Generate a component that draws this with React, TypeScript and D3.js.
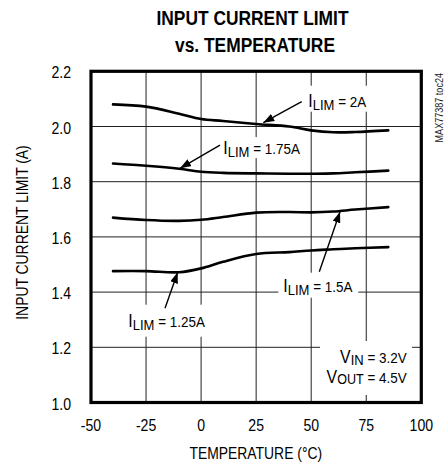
import React from "react";
import * as d3 from "d3";

const temperatures = [-40, -25, -10, 0, 10, 25, 40, 50, 60, 70, 85];
const lim2A = [2.08, 2.072, 2.046, 2.027, 2.02, 2.009, 2.0, 1.986, 1.979, 1.98, 1.986];
const lim175A = [1.866, 1.858, 1.847, 1.836, 1.832, 1.83, 1.829, 1.829, 1.83, 1.834, 1.84];
const lim15A = [1.67, 1.661, 1.658, 1.662, 1.672, 1.688, 1.69, 1.689, 1.692, 1.699, 1.708];
const lim125A = [1.476, 1.476, 1.472, 1.486, 1.51, 1.538, 1.545, 1.551, 1.555, 1.559, 1.563];

const xTicks = [-50, -25, 0, 25, 50, 75, 100];
const yTicks = [1.0, 1.2, 1.4, 1.6, 1.8, 2.0, 2.2];

const seriesList = [lim2A, lim175A, lim15A, lim125A];

const W = 448;
const H = 464;
const FONT = "'Liberation Sans', Arial, Helvetica, sans-serif";
const TITLE_FONT = "'Liberation Sans Narrow', 'Liberation Sans', Arial, sans-serif";
const SX = 0.88; // horizontal condensing

export default function App() {
  const x = d3.scaleLinear().domain([-50, 100]).range([91, 421.3]);
  const y = d3.scaleLinear().domain([1.0, 2.2]).range([402.5, 71.3]);
  const line = d3
    .line<number>()
    .x((_, i) => x(temperatures[i]))
    .y((d) => y(d))
    .curve(d3.curveCatmullRom.alpha(0.5));

  // annotations in data units
  const limLabels = [
    { val: "2A", tx: 48.68, ty: 2.0717, fx: 45.69, fy: 2.09, px: 28.25, py: 2.0138, box: [-4, -21, 68, 26] },
    { val: "1.75A", tx: 10.08, ty: 1.9, fx: 8.58, fy: 1.9326, px: -9.58, py: 1.8486, box: [-4, -17, 86, 21] },
    { val: "1.5A", tx: 37.33, ty: 1.4014, fx: 53.68, fy: 1.4739, px: 63.1, py: 1.6913, box: [-5, -19, 80, 25] },
    { val: "1.25A", tx: -33.06, ty: 1.2746, fx: -16.39, fy: 1.3413, px: -10.63, py: 1.4717, box: [-3, -22, 86, 32] },
  ];

  return (
    <svg
      width={W}
      height={H}
      viewBox={`0 0 ${W} ${H}`}
      style={{ position: "absolute", left: 0, top: 0, background: "#fff" }}
    >
      <defs>
        <marker
          id="arr"
          markerUnits="userSpaceOnUse"
          markerWidth={11}
          markerHeight={8}
          refX={11}
          refY={4}
          orient="auto"
        >
          <path d="M0,0 L11,4 L0,8 Z" fill="#000" />
        </marker>
      </defs>
      <rect x={0} y={0} width={W} height={H} fill="#fff" />

      {/* Title */}
      <text x={252.5} y={25} textAnchor="middle" fontFamily={TITLE_FONT} fontWeight="bold" fontSize={19.5} textLength={192} lengthAdjust="spacingAndGlyphs">
        INPUT CURRENT LIMIT
      </text>
      <text x={255} y={51.7} textAnchor="middle" fontFamily={TITLE_FONT} fontWeight="bold" fontSize={19.5} textLength={160} lengthAdjust="spacingAndGlyphs">
        vs. TEMPERATURE
      </text>

      {/* grid */}
      {xTicks.slice(1, -1).map((t) => (
        <line key={"gx" + t} x1={x(t)} x2={x(t)} y1={y(2.2)} y2={y(1.0)} stroke="#222" strokeWidth={1} />
      ))}
      {yTicks.slice(1, -1).map((t) => (
        <line key={"gy" + t} x1={x(-50)} x2={x(100)} y1={y(t)} y2={y(t)} stroke="#222" strokeWidth={1} />
      ))}

      {/* label backgrounds */}
      {limLabels.map((l, i) => (
        <rect key={"bg" + i} x={x(l.tx) + l.box[0]} y={y(l.ty) + l.box[1]} width={l.box[2]} height={l.box[3]} fill="#fff" />
      ))}
      <rect x={320} y={341} width={92} height={54} fill="#fff" />

      {/* curves */}
      {seriesList.map((s, i) => (
        <path key={"s" + i} d={line(s) || ""} fill="none" stroke="#000" strokeWidth={2.6} strokeLinecap="round" />
      ))}

      {/* arrows */}
      {limLabels.map((l, i) => (
        <line key={"ar" + i} x1={x(l.fx)} y1={y(l.fy)} x2={x(l.px)} y2={y(l.py)} stroke="#000" strokeWidth={1.4} markerEnd="url(#arr)" />
      ))}

      {/* labels */}
      {limLabels.map((l, i) => (
        <text key={"lt" + i} transform={`translate(${x(l.tx)},${y(l.ty)}) scale(${SX},1)`} fontFamily={FONT} fill="#000">
          <tspan fontSize={18}>I</tspan>
          <tspan fontSize={14.8} dy={3}>LIM</tspan>
          <tspan fontSize={15.3} dy={-3}>{` = ${l.val}`}</tspan>
        </text>
      ))}
      <text transform={`translate(406.7,363.3) scale(${SX},1)`} textAnchor="end" fontFamily={FONT} fill="#000">
        <tspan fontSize={18}>V</tspan>
        <tspan fontSize={14.8} dy={2}>IN</tspan>
        <tspan fontSize={15.3} dy={-2}> = 3.2V</tspan>
      </text>
      <text transform={`translate(406.7,382.7) scale(${SX},1)`} textAnchor="end" fontFamily={FONT} fill="#000">
        <tspan fontSize={18}>V</tspan>
        <tspan fontSize={14.3} dy={1}>OUT</tspan>
        <tspan fontSize={15.3} dy={-1}> = 4.5V</tspan>
      </text>

      {/* frame */}
      <rect x={x(-50)} y={y(2.2)} width={x(100) - x(-50)} height={y(1.0) - y(2.2)} fill="none" stroke="#000" strokeWidth={3.2} />

      {/* ticks labels */}
      {yTicks.map((t) => (
        <text key={"yt" + t} transform={`translate(71,${y(t) + 7}) scale(${SX},1)`} textAnchor="end" fontFamily={FONT} fontSize={16} fill="#000">
          {t.toFixed(1)}
        </text>
      ))}
      {xTicks.map((t) => (
        <text key={"xt" + t} transform={`translate(${x(t)},430.5) scale(${SX},1)`} textAnchor="middle" fontFamily={FONT} fontSize={16} fill="#000">
          {t}
        </text>
      ))}

      {/* axis titles */}
      <text transform={`translate(255.8,459) scale(${SX},1)`} textAnchor="middle" fontFamily={FONT} fontSize={15.8} fill="#000">
        TEMPERATURE (°C)
      </text>
      <text transform={`translate(28,232.5) rotate(-90) scale(${SX},1)`} textAnchor="middle" fontFamily={FONT} fontSize={15.8} fill="#000">
        INPUT CURRENT LIMIT (A)
      </text>
      <text transform={`translate(443.3,73) rotate(-90) scale(${SX},1)`} textAnchor="end" fontFamily={FONT} fontSize={10.3} fill="#222">
        MAX77387 toc24
      </text>
    </svg>
  );
}
